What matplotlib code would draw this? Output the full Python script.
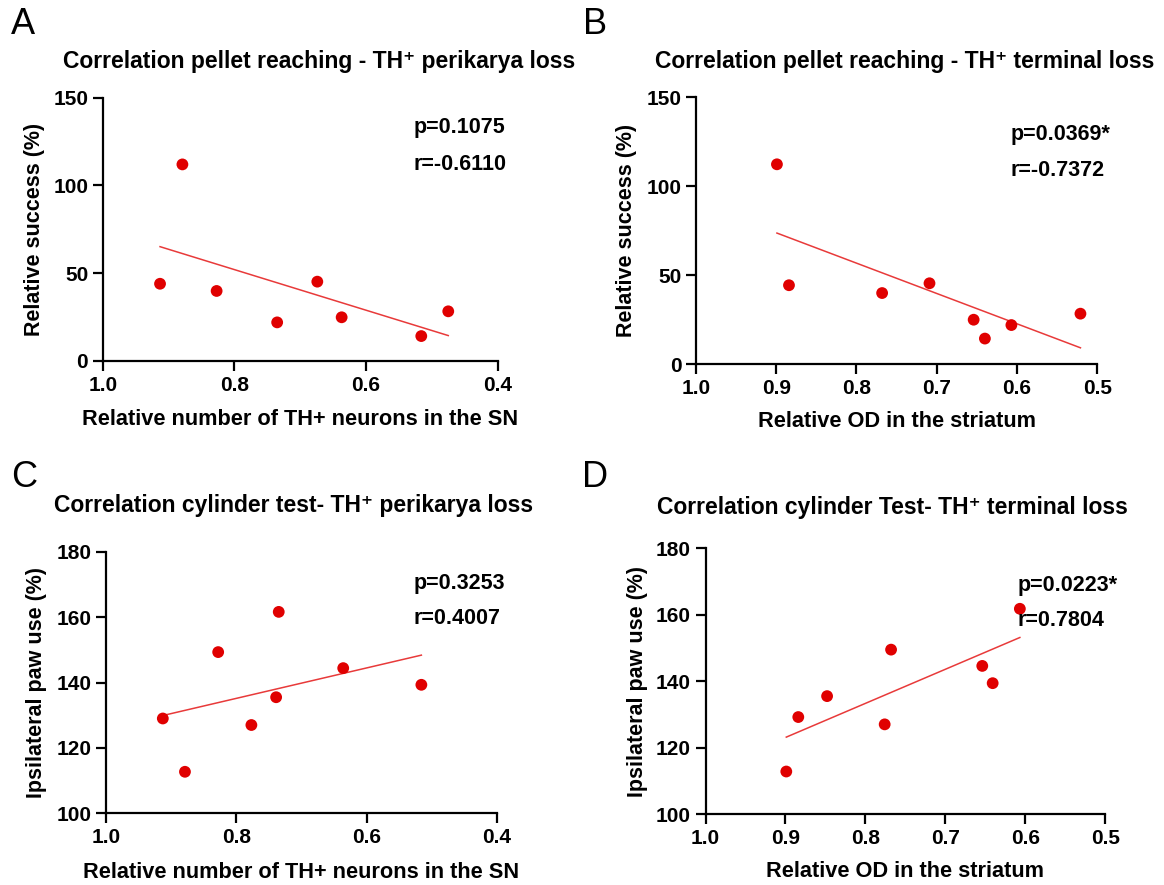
import numpy as np
import matplotlib
matplotlib.use("Agg")
import matplotlib.pyplot as plt
from matplotlib.ticker import FormatStrFormatter

plt.rcParams['font.family'] = ['Liberation Sans', 'DejaVu Sans']
plt.rcParams['font.weight'] = 'bold'

# ---------------- data ----------------
# A: pellet reaching vs TH+ perikarya
a_x = [0.913, 0.879, 0.827, 0.735, 0.674, 0.637, 0.516, 0.475]
a_y = [44.0, 112.0, 39.9, 22.0, 45.2, 24.9, 14.2, 28.3]
# B: pellet reaching vs TH+ terminals
b_x = [0.899, 0.884, 0.768, 0.709, 0.654, 0.640, 0.607, 0.521]
b_y = [112.3, 44.3, 39.9, 45.4, 24.9, 14.3, 21.9, 28.3]
# C: cylinder test vs TH+ perikarya
c_x = [0.913, 0.879, 0.828, 0.777, 0.739, 0.735, 0.636, 0.516]
c_y = [129.0, 112.7, 149.3, 127.0, 135.5, 161.6, 144.4, 139.3]
# D: cylinder test vs TH+ terminals
d_x = [0.899, 0.884, 0.848, 0.776, 0.768, 0.654, 0.641, 0.607]
d_y = [112.8, 129.2, 135.5, 127.0, 149.5, 144.6, 139.4, 161.8]

titles = ["Correlation pellet reaching - TH\u207a perikarya loss",
          "Correlation pellet reaching - TH\u207a terminal loss",
          "Correlation cylinder test- TH\u207a perikarya loss",
          "Correlation cylinder Test- TH\u207a terminal loss"]
stats = [("p=0.1075", "r=-0.6110"),
         ("p=0.0369*", "r=-0.7372"),
         ("p=0.3253", "r=0.4007"),
         ("p=0.0223*", "r=0.7804")]
xlabel_sn = "Relative number of TH+ neurons in the SN"
xlabel_od = "Relative OD in the striatum"
ylabel_reach = "Relative success (%)"
ylabel_cyl = "Ipsilateral paw use (%)"

fig = plt.figure(figsize=(11.64, 8.85), dpi=100)

# panel geometry (figure fractions)
boxes = [[0.0883, 0.5921, 0.3392, 0.2975],
         [0.5978, 0.5887, 0.3449, 0.3014],
         [0.0912, 0.0810, 0.3357, 0.2956],
         [0.6061, 0.0802, 0.3436, 0.3002]]
title_pos = [(0.274, 0.930), (0.777, 0.930), (0.252, 0.429), (0.767, 0.427)]
letter_pos = [(0.020, 0.972), (0.511, 0.972), (0.021, 0.460), (0.511, 0.460)]
stat_pos = [(0.787, 0.885, 0.748), (0.783, 0.859, 0.725),
            (0.787, 0.879, 0.745), (0.780, 0.862, 0.730)]
ylab_x = [-0.172, -0.172, -0.177, -0.170]
xlab_y = [-0.224, -0.216, -0.228, -0.217]

panels = [(a_x, a_y, (1.0, 0.4), [1.0, 0.8, 0.6, 0.4], (0, 150), [0, 50, 100, 150], xlabel_sn, ylabel_reach),
          (b_x, b_y, (1.0, 0.5), [1.0, 0.9, 0.8, 0.7, 0.6, 0.5], (0, 150), [0, 50, 100, 150], xlabel_od, ylabel_reach),
          (c_x, c_y, (1.0, 0.4), [1.0, 0.8, 0.6, 0.4], (100, 180), [100, 120, 140, 160, 180], xlabel_sn, ylabel_cyl),
          (d_x, d_y, (1.0, 0.5), [1.0, 0.9, 0.8, 0.7, 0.6, 0.5], (100, 180), [100, 120, 140, 160, 180], xlabel_od, ylabel_cyl)]

for i, (xs, ys, xlim, xt, ylim, yt, xl, yl) in enumerate(panels):
    ax = fig.add_axes(boxes[i])
    xs = np.array(xs)
    ys = np.array(ys)

    # linear fit across the data range
    k, b = np.polyfit(xs, ys, 1)
    xx = np.array([xs.min(), xs.max()])
    ax.plot(xx, k * xx + b, color='#e83a3a', lw=1.1, zorder=2)
    ax.scatter(xs, ys, s=72, color='#e00000', edgecolors='none', zorder=3, clip_on=False)

    ax.set_xlim(*xlim)
    ax.set_ylim(*ylim)
    ax.set_xticks(xt)
    ax.set_yticks(yt)
    ax.xaxis.set_major_formatter(FormatStrFormatter('%.1f'))
    ax.yaxis.set_major_formatter(FormatStrFormatter('%d'))

    for s in ['top', 'right']:
        ax.spines[s].set_visible(False)
    for s in ['left', 'bottom']:
        ax.spines[s].set_linewidth(1.6)
    ax.tick_params(width=1.6, length=7, pad=3.5, labelsize=15, direction='out')

    ax.set_xlabel(xl, fontsize=15.7, fontweight='bold')
    ax.set_ylabel(yl, fontsize=15.5, fontweight='bold')
    ax.xaxis.set_label_coords(0.5, xlab_y[i])
    ax.xaxis.label.set_verticalalignment('center')
    ax.yaxis.set_label_coords(ylab_x[i], 0.5)
    ax.yaxis.label.set_verticalalignment('center')

    sx, py, ry = stat_pos[i]
    ax.text(sx, py, stats[i][0], transform=ax.transAxes, fontsize=15.5,
            fontweight='bold', ha='left', va='center')
    ax.text(sx, ry, stats[i][1], transform=ax.transAxes, fontsize=15.5,
            fontweight='bold', ha='left', va='center')

    fig.text(title_pos[i][0], title_pos[i][1], titles[i], fontsize=16.5,
             fontweight='bold', ha='center', va='center')
    fig.text(letter_pos[i][0], letter_pos[i][1], "ABCD"[i], fontsize=26,
             fontweight='normal', ha='center', va='center')

fig.savefig("out.png", dpi=100)
